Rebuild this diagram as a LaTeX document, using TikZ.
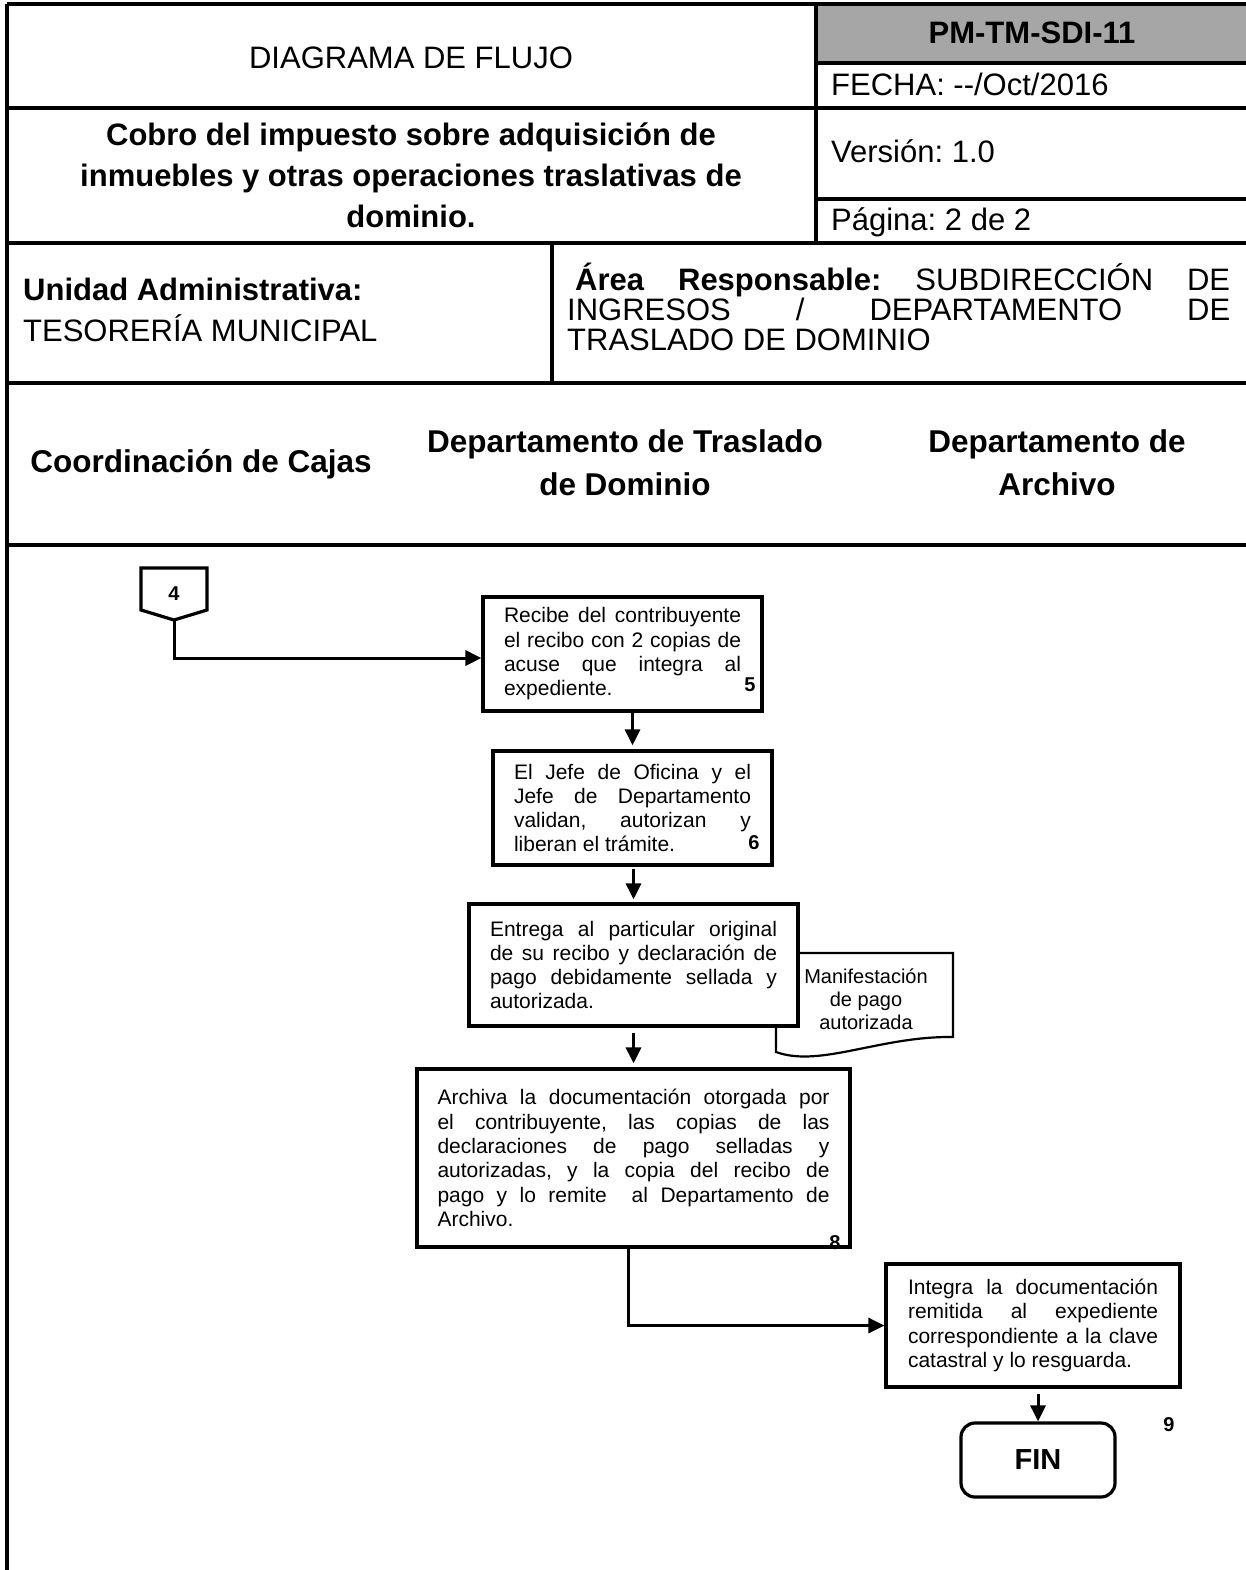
\documentclass[tikz,border=0pt]{standalone}
\usepackage{fontspec}
\setmainfont{Liberation Sans}
\usetikzlibrary{arrows.meta}
\hbadness=10000
\frenchspacing

\tikzset{
  marco/.style={line width=3.2pt},
  encabezado/.style={font=\fontsize{31}{41}\selectfont},
  negrita/.style={font=\bfseries\fontsize{31}{41}\selectfont},
  carril/.style={font=\bfseries\fontsize{31.5}{43}\selectfont, align=center},
  proceso/.style={draw, line width=3.2pt, fill=white, inner sep=0pt, align=justify,
                  font=\fontsize{21}{24.3}\selectfont},
  numero/.style={font=\bfseries\fontsize{20}{20}\selectfont, inner sep=0pt},
  flecha/.style={->, line width=3pt},
}

\begin{document}
\begin{tikzpicture}[x=1pt, y=-1pt, >={Triangle[length=16pt,width=15pt]}]
    \useasboundingbox (0,0) rectangle (1246,1570);

    % Celdas del encabezado
    \fill[gray!70] (816,4) rectangle (1246,63);
    \draw[marco] (7,4) -- (1246,4);
    \draw[marco] (7,4) -- (7,1570);
    \draw[marco] (7,108) -- (1246,108);
    \draw[marco] (7,243) -- (1246,243);
    \draw[marco] (7,383) -- (1246,383);
    \draw[marco] (7,545) -- (1246,545);
    \draw[marco] (816,63) -- (1246,63);
    \draw[marco] (816,199) -- (1246,199);
    \draw[marco] (816,4) -- (816,243);
    \draw[marco] (552,243) -- (552,383);

    % Textos del encabezado
    \node[encabezado, anchor=base] (titulo) at (411,69) {DIAGRAMA DE FLUJO};
    \node[negrita, anchor=base] (codigo) at (1032,44) {PM-TM-SDI-11};
    \node[encabezado, anchor=base west, inner sep=0pt] (fecha) at (831,96) {FECHA: \mbox{-}\mbox{-}/Oct/2016};
    \node[negrita, align=center] (nombre) at (411,175) {Cobro del impuesto sobre adquisición de\\inmuebles y otras operaciones traslativas de\\dominio.};
    \node[encabezado, anchor=base west, inner sep=0pt] (version) at (831,163) {Versión: 1.0};
    \node[encabezado, anchor=base west, inner sep=0pt] (pagina) at (831,231) {Página: 2 de 2};
    \node[encabezado, align=left, anchor=west, inner sep=0pt] (unidad) at (23,310) {\textbf{Unidad Administrativa:}\\TESORERÍA MUNICIPAL};
    \node[font=\fontsize{31}{30}\selectfont, text width=663pt, align=justify, inner sep=0pt, anchor=north west] (area) at (567,263)
        {\hspace*{8pt}\textbf{Área Responsable:} SUBDIRECCIÓN DE\linebreak INGRESOS / DEPARTAMENTO DE\linebreak TRASLADO DE DOMINIO};

    % Carriles
    \node[carril] (cajas) at (201,464) {Coordinación de Cajas};
    \node[carril] (traslado) at (625,463) {Departamento de Traslado\\de Dominio};
    \node[carril] (archivo) at (1057,463) {Departamento de\\Archivo};

    % Conector de pagina
    \draw[marco, fill=white] (141,568) -- (207,568) -- (207,610) -- (174,620) -- (141,610) -- cycle;
    \node[numero] (conector) at (174,594) {4};
    \coordinate (punta) at (174,620);

    % Documento
    \draw[line width=2.2pt, fill=white] (776,953) -- (953,953) -- (953,1037)
        .. controls (880,1036) and (820,1068) .. (776,1052) -- cycle;
    \node[font=\fontsize{20}{23}\selectfont, align=center, inner sep=0pt] (manif) at (866,999) {Manifestación\\de pago\\autorizada};

    % Actividades
    \node[proceso, text width=237pt, minimum width=279pt, minimum height=114pt] (recibe) at (622.5,654)
        {Recibe del contribuyente\linebreak el recibo con 2 copias de\linebreak acuse que integra al\linebreak expediente.};
    \node[numero] (num5) at (750,685) {5};

    \node[proceso, text width=237pt, minimum width=279pt, minimum height=114pt] (valida) at (632.5,808)
        {El Jefe de Oficina y el\linebreak Jefe de Departamento\linebreak validan, autorizan y\linebreak liberan el trámite.};
    \node[numero] (num6) at (754,843) {6};

    \node[proceso, text width=287pt, minimum width=329pt, minimum height=122pt] (entrega) at (633.5,965)
        {Entrega al particular original\linebreak de su recibo y declaración de\linebreak pago debidamente sellada y\linebreak autorizada.};

    \node[proceso, text width=392pt, minimum width=433pt, minimum height=178pt] (archiva) at (633.5,1158)
        {Archiva la documentación otorgada por\linebreak el contribuyente, las copias de las\linebreak declaraciones de pago selladas y\linebreak autorizadas, y la copia del recibo de\linebreak pago y lo remite~ al Departamento de\linebreak Archivo.};
    \node[numero] (num8) at (835,1243) {8};

    \node[proceso, text width=250pt, minimum width=294pt, minimum height=123pt] (integra) at (1033,1325.5)
        {Integra la documentación\linebreak remitida al expediente\linebreak correspondiente a la clave\linebreak catastral y lo resguarda.};

    \node[draw, line width=3.2pt, rounded corners=14pt, minimum width=154pt, minimum height=74pt,
          font=\bfseries\fontsize{29}{29}\selectfont] (fin) at (1038,1460) {FIN};
    \node[numero] (num9) at (1169,1425) {9};

    % Conexiones
    \draw[flecha] (punta) |- ([yshift=-4pt]recibe.west);
    \draw[flecha, shorten >=4pt] (recibe.south -| valida.north) -- (valida.north);
    \draw[flecha, shorten <=2pt, shorten >=3pt] (valida.south -| entrega.north) -- (entrega.north);
    \draw[flecha, shorten <=5pt, shorten >=4pt] (entrega.south -| archiva.north) -- (archiva.north);
    \draw[flecha] ([xshift=-5pt]archiva.south) |- (integra.west);
    \draw[flecha, shorten <=5pt] (integra.south -| fin.north) -- (fin.north);
\end{tikzpicture}
\end{document}
